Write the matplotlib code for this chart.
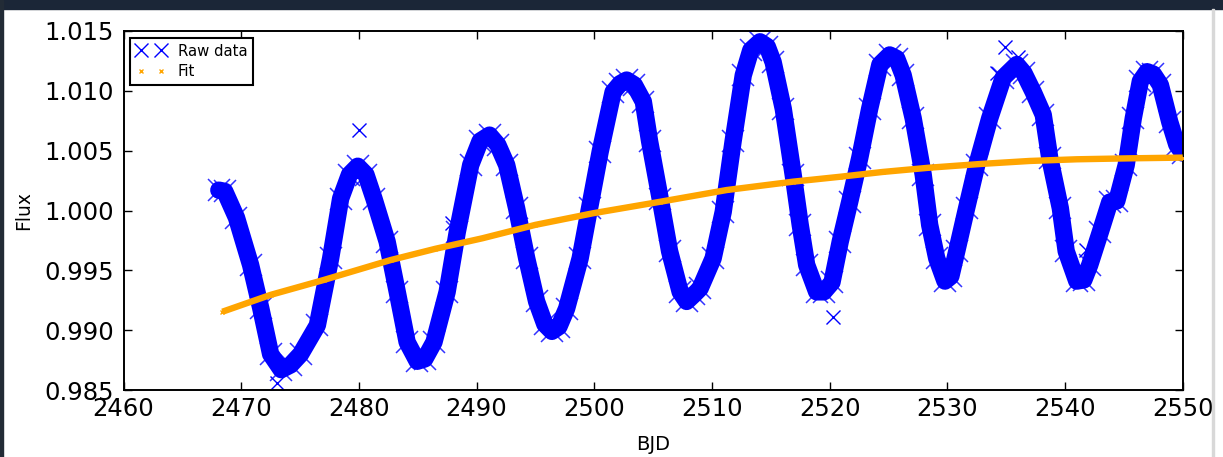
import numpy as np
import matplotlib
matplotlib.use("Agg")
import matplotlib.pyplot as plt
from matplotlib.patches import Rectangle

# values
raw_t = [2468.1, 2468.6, 2469.6, 2470.8, 2471.66, 2472.5, 2473.4, 2474.2, 2475.05, 2476.47,
         2477.6, 2478.45, 2479.2, 2479.9, 2480.6, 2481.28, 2482.4, 2483.26, 2484.1, 2484.96,
         2485.6, 2486.38, 2487.5, 2488.36, 2489.5, 2490.3, 2491.1, 2491.8, 2492.56, 2493.4,
         2494.26, 2495.1, 2495.8, 2496.4, 2497.0, 2497.65, 2498.8, 2499.6, 2500.5, 2501.6,
         2502.2, 2502.75, 2503.4, 2504.17, 2504.7, 2505.6, 2506.4, 2507.3, 2507.85, 2508.5,
         2509.0, 2510.1, 2510.96, 2511.8, 2512.66, 2513.3, 2514.08, 2514.7, 2515.2, 2516.06,
         2516.9, 2517.5, 2518.05, 2518.9, 2519.5, 2520.2, 2520.9, 2521.7, 2522.56, 2523.4,
         2524.27, 2525.1, 2525.7, 2526.25, 2527.1, 2527.95, 2528.5, 2529.1, 2529.8, 2530.3,
         2530.8, 2531.64, 2532.5, 2533.6, 2534.75, 2535.9, 2536.5, 2537.3, 2538.15, 2538.7,
         2539.6, 2540.1, 2541.0, 2541.6, 2542.1, 2543.0, 2543.8, 2544.4, 2545.2, 2545.8,
         2546.4, 2546.97, 2547.5, 2548.1, 2548.9, 2549.5, 2550.0]
raw_f = [1.0017, 1.0016, 0.9994, 0.99545, 0.99185, 0.9880, 0.9867, 0.9871, 0.9880, 0.9904,
         0.9960, 1.0010, 1.0030, 1.0037, 1.0030, 1.0010, 0.9974, 0.9932, 0.9890, 0.9874,
         0.9876, 0.9890, 0.9932, 0.9982, 1.0038, 1.0058, 1.0063, 1.0055, 1.0038, 1.0002,
         0.9960, 0.9924, 0.9905, 0.9899, 0.9903, 0.9918, 0.9960, 1.0002, 1.0049, 1.0099,
         1.0106, 1.0109, 1.0105, 1.0091, 1.0058, 1.0010, 0.9966, 0.9932, 0.9924, 0.9930,
         0.9935, 0.9960, 0.9999, 1.0058, 1.0113, 1.0134, 1.0141, 1.0137, 1.0124, 1.0085,
         1.0030, 0.9988, 0.99545, 0.9932, 0.9932, 0.9940, 0.9974, 1.0007, 1.0044, 1.0085,
         1.0122, 1.0130, 1.0127, 1.0113, 1.0077, 1.0030, 0.9988, 0.9960, 0.9941, 0.9945,
         0.9966, 1.0002, 1.0038, 1.0077, 1.0111, 1.0122, 1.0115, 1.0099, 1.0080, 1.0044,
         1.0002, 0.9966, 0.9941, 0.9942, 0.99545, 0.9982, 1.0007, 1.0008, 1.0038, 1.0077,
         1.0108, 1.0116, 1.0114, 1.0105, 1.0074, 1.0055, 1.0048]

# isolated points away from the main band
out_t = [2473.07, 2480.0, 2487.94, 2520.3, 2534.2, 2534.9, 2536.0, 2541.8]
out_f = [0.98556, 1.00673, 0.99893, 0.9911, 1.01147, 1.01369, 1.01285, 0.99670]

fit_t = [2468.4, 2472.5, 2477.0, 2482.7, 2486.5, 2490.5, 2495.0, 2499.9, 2505.6, 2511.25,
         2516.9, 2520.9, 2524.5, 2528.5, 2533.0, 2537.0, 2541.0, 2545.5, 2550.0]
fit_f = [0.99154, 0.99295, 0.99419, 0.99586, 0.99680, 0.99768, 0.99880, 0.99977, 1.00073, 1.00171,
         1.00241, 1.00282, 1.00322, 1.00358, 1.00390, 1.00414, 1.00428, 1.00436, 1.00442]

W, H = 1223, 457
fig = plt.figure(figsize=(W / 100, H / 100), dpi=100, facecolor="white")
ax = fig.add_axes([123.5 / W, 1 - 390 / H, (1182.7 - 123.5) / W, (390 - 31) / H])

# screenshot frame
fig.patches.append(Rectangle((0, 1 - 9 / H), 1, 9 / H, transform=fig.transFigure,
                             color="#1b2637", zorder=0))
fig.patches.append(Rectangle((0, 0), 3 / W, 1, transform=fig.transFigure,
                             color="#222b36", zorder=0))
fig.patches.append(Rectangle((1212 / W, 0), 1.5 / W, 1 - 9 / H, transform=fig.transFigure,
                             color="#d8d8d8", zorder=0))

blue = "#0000ff"
orange = "#ffa500"
ax.plot(raw_t, raw_f, "-", color=blue, lw=12.5, solid_joinstyle="round",
        solid_capstyle="round", zorder=2)
ax.plot(raw_t, raw_f, "x", color=blue, ms=16, mew=1.1, alpha=0.8, zorder=2)
ax.plot(out_t, out_f, "x", color=blue, ms=9.5, mew=1.0, label="Raw data", zorder=2)
ax.plot(fit_t, fit_f, "-", color=orange, lw=4.6, solid_capstyle="butt", zorder=3)
ax.plot(fit_t, fit_f, "x", color=orange, ms=3, mew=1.0, label="Fit", zorder=3)

ax.set_xlim(2460, 2550)
ax.set_ylim(0.985, 1.015)
ax.set_xticks(np.arange(2460, 2551, 10))
ax.set_yticks(np.arange(0.985, 1.0151, 0.005))
ax.yaxis.set_major_formatter(matplotlib.ticker.FormatStrFormatter("%.3f"))
ax.tick_params(direction="in", length=6, width=1, top=True, right=True,
               labelsize=17.5, colors="black")
ax.tick_params(axis="x", pad=5)
ax.tick_params(axis="y", pad=7)
for s in ax.spines.values():
    s.set_linewidth(1.4)
ax.set_xlabel("BJD", fontsize=14, labelpad=10)
ax.set_ylabel("Flux", fontsize=13.5, labelpad=8)

leg = ax.legend(loc="upper left", numpoints=2, fontsize=10.7, fancybox=False,
                handlelength=2.0, handletextpad=0.8, labelspacing=0.35,
                borderpad=0.4, borderaxespad=0.45, framealpha=1)
leg.get_frame().set_edgecolor("black")
leg.get_frame().set_linewidth(1.5)

fig.savefig("out.png", dpi=100, facecolor="white")
